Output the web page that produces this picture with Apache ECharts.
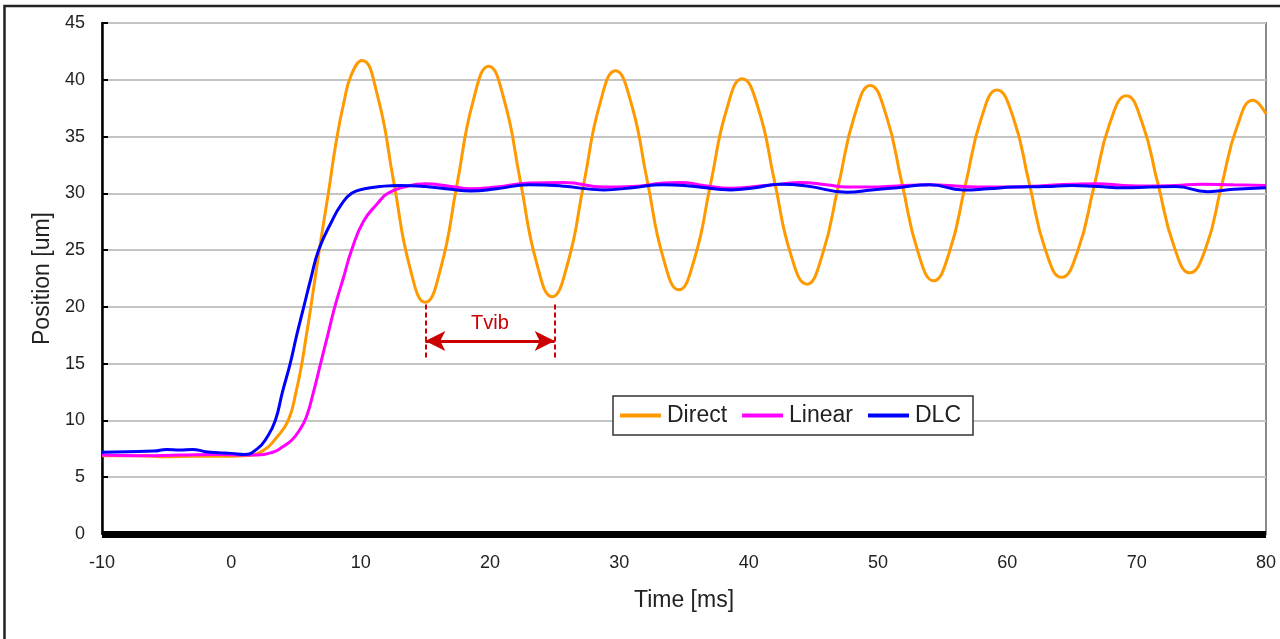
<!DOCTYPE html>
<html>
<head>
<meta charset="utf-8">
<script src="https://cdn.jsdelivr.net/npm/echarts@6/dist/echarts.min.js"></script>
<style>
html,body{margin:0;padding:0;background:#fff;}
#chart{width:1280px;height:639px;}
</style>
</head>
<body>
<div id="chart"></div>
<script>
// ---- data (time in ms, position in um) ----
const seriesNames = ['Direct', 'Linear', 'DLC'];
const seriesColors = ['#FF9900', '#FF00FF', '#0000FF'];

const directData = [
  [-10,6.9],[-7,6.9],[-5,6.8],[-3,6.85],[-1,6.85],[1,6.9],[2.4,7.3],[3.5,8.5],[4.4,10],[5.0,12.5],[5.45,15],[5.8,17.5],[6.15,20],[6.8,25],[7.5,30],[8.1,34.5],[8.7,38],[9.3,40.5],[10.1,41.7],
  [11.3,38.6],[12.55,31.05],[13.8,23.5],[15.0,20.4],
  [16.2,23.45],[17.45,30.8],[18.7,38.15],[19.9,41.2],
  [21.1,38.2],[22.35,31.05],[23.6,23.9],[24.8,20.9],
  [26.0,23.8],[27.25,30.85],[28.5,37.9],[29.7,40.8],
  [30.9,38.0],[32.15,31.15],[33.4,24.3],[34.6,21.5],
  [35.8,24.2],[37.05,30.8],[38.3,37.4],[39.5,40.1],
  [40.75,37.45],[42.0,31.05],[43.25,24.65],[44.5,22.0],
  [45.7,24.6],[46.95,30.75],[48.2,36.9],[49.4,39.5],
  [50.6,37.0],[51.85,30.9],[53.1,24.8],[54.3,22.3],
  [55.5,24.75],[56.75,30.7],[58.0,36.65],[59.2,39.1],
  [60.45,36.7],[61.7,30.85],[62.95,25.0],[64.2,22.6],
  [65.45,24.95],[66.7,30.6],[67.95,36.25],[69.2,38.6],
  [70.4,36.3],[71.65,30.8],[72.9,25.3],[74.1,23.0],
  [75.35,25.2],[76.55,30.6],[77.8,36.0],[79.0,38.2],
  [80,37.0]
];

const linearData = [
  [-10,6.95],[-7,6.9],[-4,6.95],[-1,7.0],[1,6.95],[2,6.95],[3.2,7.2],[4.0,7.7],[4.7,8.3],[5.3,9.2],[5.8,10.3],[6.35,12.5],[6.9,15],[7.45,17.5],[8.0,20],[8.65,22.5],[9.3,25],[10.2,27.5],[11.3,29.1],[12.1,30.0],[13.5,30.6],
  [15,30.85],[17,30.6],[18.5,30.4],[20.5,30.55],[23,30.9],[25.7,30.95],[28.8,30.55],[31,30.6],[33.4,30.9],[34.7,30.95],[36.5,30.7],[38.6,30.45],[40.5,30.6],[42.4,30.8],[44,30.95],[46,30.75],[47.6,30.55],[49.5,30.55],[51.5,30.65],[54,30.75],[56.6,30.6],[58.5,30.55],[60.5,30.55],[63,30.7],[65,30.8],[67,30.85],[69,30.7],[71,30.65],[73,30.7],[75,30.8],[77.5,30.75],[80,30.7]
];

const dlcData = [
  [-10,7.2],[-8,7.25],[-6,7.3],[-5,7.45],[-4,7.4],[-3,7.45],[-2,7.25],[-1,7.15],[0,7.1],[1,7.0],[2,7.5],[2.75,8.5],[3.4,10],[3.95,12.5],[4.55,15],[5.05,17.5],[5.6,20],[6.15,22.5],[6.75,25],[7.75,27.5],[8.5,29],[9.3,30.0],[10.3,30.4],[11.5,30.6],[13,30.7],
  [15,30.6],[17,30.35],[18.5,30.2],[20.5,30.4],[23,30.75],[25.5,30.65],[28.8,30.3],[31,30.5],[33.4,30.75],[35,30.7],[38.6,30.3],[40.5,30.5],[42.4,30.8],[44.5,30.65],[47.6,30.1],[49.5,30.3],[51.5,30.5],[54,30.75],[56.6,30.3],[58.5,30.4],[60.5,30.55],[63,30.6],[65,30.7],[67,30.6],[69,30.5],[71,30.55],[73,30.6],[75.5,30.15],[77.5,30.35],[80,30.5]
];

// axis ranges / tick spacing
const xRange = [-10, 80, 10];
const yRange = [0, 45, 5];

// Tvib annotation (data units)
const tvib = { start: 15, end: 25, dashTop: 20.2, dashBottom: 15.4, arrowY: 17.0, text: 'Tvib' };

const FONT = '"Liberation Sans", Arial, sans-serif';
const red = '#CC0000';

const chart = echarts.init(document.getElementById('chart'), null, { renderer: 'canvas' });

const seriesData = [directData, linearData, dlcData];
const series = seriesNames.map((name, i) => ({
  name: name,
  type: 'line',
  data: seriesData[i],
  symbol: 'none',
  smooth: 0.5,
  lineStyle: { color: seriesColors[i], width: 3 },
  itemStyle: { color: seriesColors[i] },
  z: 2 + i,
  animation: false
}));

series[0].markLine = {
  silent: true,
  animation: false,
  symbol: ['none', 'none'],
  label: { show: false },
  data: [
    [
      { coord: [tvib.start, tvib.dashTop], lineStyle: { type: [5, 3], width: 2, color: red } },
      { coord: [tvib.start, tvib.dashBottom] }
    ],
    [
      { coord: [tvib.end, tvib.dashTop], lineStyle: { type: [5, 3], width: 2, color: red } },
      { coord: [tvib.end, tvib.dashBottom] }
    ],
    [
      { coord: [tvib.start, tvib.arrowY], symbol: 'arrow', symbolSize: [15, 20],
        lineStyle: { type: 'solid', width: 3, color: red },
        itemStyle: { color: red },
        label: { show: true, formatter: tvib.text, position: 'middle', color: red, fontSize: 20, fontFamily: FONT, distance: 7 } },
      { coord: [tvib.end, tvib.arrowY], symbol: 'arrow', symbolSize: [15, 20], itemStyle: { color: red } }
    ]
  ]
};

const option = {
  backgroundColor: '#ffffff',
  animation: false,
  textStyle: { fontFamily: FONT },
  graphic: [{
    type: 'rect',
    shape: { x: 4.5, y: 6, width: 1400, height: 800 },
    style: { fill: 'none', stroke: '#222', lineWidth: 2.5 },
    silent: true,
    z: -10
  }],
  grid: {
    left: 102, top: 23, right: 14, bottom: 105,
    show: true, borderColor: '#8a8a8a', borderWidth: 2, backgroundColor: 'transparent'
  },
  legend: {
    data: seriesNames.map(n => ({ name: n, icon: 'rect' })),
    left: 613, top: 396,
    orient: 'horizontal',
    itemWidth: 41, itemHeight: 4, itemGap: 15,
    padding: [8, 12, 8, 7],
    borderColor: '#333', borderWidth: 1.5,
    backgroundColor: '#fff',
    textStyle: { fontSize: 23, color: '#222', fontFamily: FONT, padding: [0, 0, 0, 1] },
    selectedMode: false
  },
  xAxis: {
    type: 'value',
    min: xRange[0], max: xRange[1], interval: xRange[2],
    name: 'Time [ms]',
    nameLocation: 'middle',
    nameGap: 55,
    nameTextStyle: { fontSize: 23, color: '#222', fontFamily: FONT },
    axisLine: { show: true, onZero: false, lineStyle: { color: '#000', width: 7, cap: 'butt' } },
    axisTick: { show: false },
    axisLabel: { fontSize: 18, color: '#222', margin: 20, fontFamily: FONT },
    splitLine: { show: false }
  },
  yAxis: {
    type: 'value',
    min: yRange[0], max: yRange[1], interval: yRange[2],
    name: 'Position [um]',
    nameLocation: 'middle',
    nameGap: 47,
    nameTextStyle: { fontSize: 23, color: '#222', fontFamily: FONT },
    axisLine: { show: true, onZero: false, lineStyle: { color: '#000', width: 2.5 } },
    axisTick: { show: true, inside: true, length: 6, lineStyle: { color: '#000', width: 2 } },
    axisLabel: { fontSize: 18, color: '#222', margin: 17, fontFamily: FONT },
    splitLine: { show: true, lineStyle: { color: '#c4c4c4', width: 2 } }
  },
  series: series
};

chart.setOption(option);
</script>
</body>
</html>
